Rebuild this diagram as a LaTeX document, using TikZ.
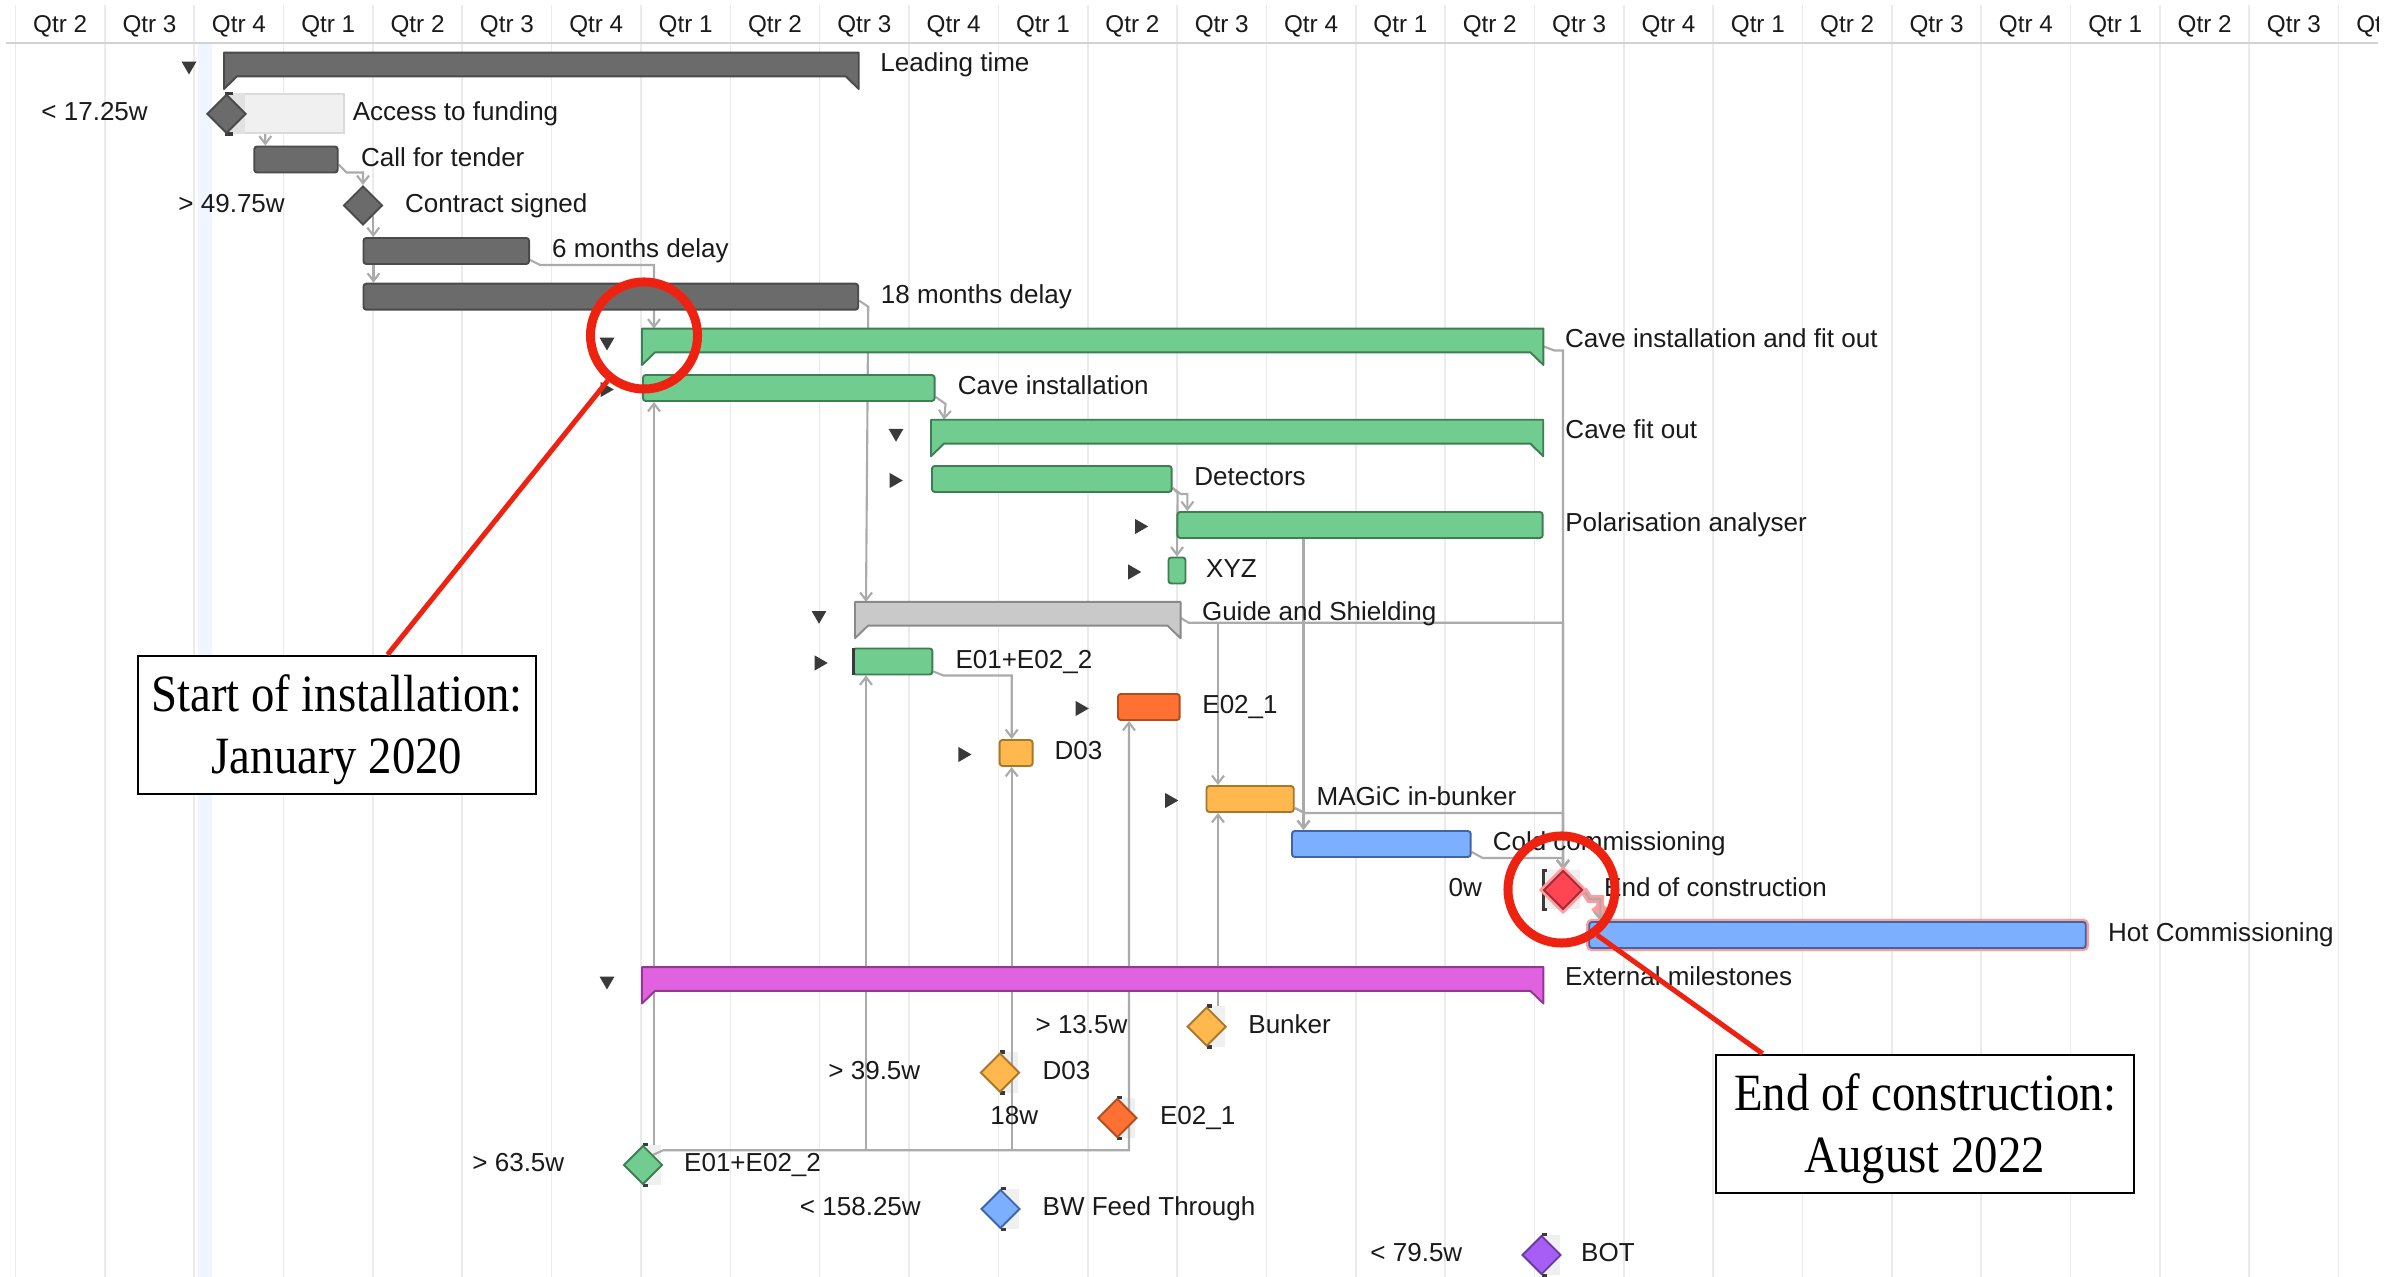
\documentclass[tikz,border=0pt]{standalone}
\usepackage{fontspec}
\setmainfont{Liberation Sans}
\newfontfamily\calloutfont{Liberation Serif}
\usetikzlibrary{positioning, calc, shapes.geometric, arrows.meta}
\pgfdeclarelayer{grid}
\pgfdeclarelayer{links}
\pgfdeclarelayer{front}
\pgfsetlayers{grid,links,main,front}

\definecolor{barGrey}{HTML}{6B6B6B}
\definecolor{barGreyEdge}{HTML}{4A4A4A}
\definecolor{caveGreen}{HTML}{70CD8F}
\definecolor{caveGreenEdge}{HTML}{3F7D54}
\definecolor{guideGrey}{HTML}{C9C9C9}
\definecolor{guideGreyEdge}{HTML}{8A8A8A}
\definecolor{orangeTask}{HTML}{FF7033}
\definecolor{orangeTaskEdge}{HTML}{B24E1E}
\definecolor{yellowTask}{HTML}{FFB84D}
\definecolor{yellowTaskEdge}{HTML}{A8782A}
\definecolor{blueTask}{HTML}{7DAFFF}
\definecolor{blueTaskEdge}{HTML}{4064A8}
\definecolor{magentaSum}{HTML}{E062E0}
\definecolor{magentaSumEdge}{HTML}{8F3A8F}
\definecolor{redMile}{HTML}{FF4553}
\definecolor{redMileEdge}{HTML}{A52A3A}
\definecolor{purpleMile}{HTML}{A65EF5}
\definecolor{purpleMileEdge}{HTML}{6A3A9E}
\definecolor{gridGrey}{HTML}{EBEBEB}
\definecolor{headLine}{HTML}{D2D2D2}
\definecolor{depGrey}{HTML}{ABABAB}
\definecolor{todayBlue}{HTML}{F0F6FF}
\definecolor{slackGrey}{HTML}{F0F0F0}
\definecolor{slackDark}{HTML}{E2E2E2}
\definecolor{slackEdge}{HTML}{DADADA}
\definecolor{markDark}{HTML}{3A3A3A}
\definecolor{textDark}{HTML}{1A1A1A}
\definecolor{calloutRed}{HTML}{EE2211}
\definecolor{glowPink}{HTML}{FF9C9C}

% summary bar outline with the two end flags
\newcommand{\sumflags}[3]{%
  \filldraw[fill=#2, draw=#3, line width=0.55pt, line join=round]
    (#1.north west) -- (#1.north east) -- ($(#1.south east)+(0,12.6)$)
    -- ($(#1.south east)+(-13,0)$) -- ($(#1.south west)+(13,0)$)
    -- ($(#1.south west)+(0,12.6)$) -- cycle;}
% slack mark behind a milestone
\newcommand{\slackmark}[1]{%
  \begin{pgfonlayer}{links}
    \fill[slackGrey] (#1.north) rectangle ($(#1.south)+(18,0)$);
    \draw[markDark, line width=1pt] (#1.north) -- ++(5,0) (#1.south) -- ++(5,0);
  \end{pgfonlayer}}

\begin{document}
\begin{tikzpicture}[x=0.01cm, y=-0.01cm, >=stealth,
    taskbar/.style={draw, rounded corners=0.8pt, line width=0.55pt, minimum height=0.26cm, inner sep=0pt, anchor=west},
    sumbar/.style={inner sep=0pt, minimum height=0.224cm, anchor=west},
    milestone/.style={diamond, draw, line width=0.55pt, inner sep=0pt, minimum width=0.39cm, minimum height=0.39cm},
    slackbox/.style={fill=slackGrey, draw=slackEdge, line width=0.5pt, minimum height=0.39cm, inner sep=0pt, anchor=west},
    tasklabel/.style={font=\fontsize{7.4}{9}\selectfont, text=textDark, inner sep=0pt, text height=5.6pt, text depth=1.7pt},
    headlabel/.style={font=\fontsize{6.9}{8}\selectfont, text=textDark, inner sep=0pt},
    expander/.style={regular polygon, regular polygon sides=3, fill=markDark, inner sep=0pt, minimum size=0.17cm, shape border rotate=180},
    collapser/.style={regular polygon, regular polygon sides=3, fill=markDark, inner sep=0pt, minimum size=0.175cm, shape border rotate=-90},
    dep/.style={draw=depGrey, line width=0.6pt, -{Straight Barb[length=2.2pt, width=3.4pt]}},
    callbox/.style={draw, line width=0.75pt, fill=white, inner sep=0pt},
    calltext/.style={align=center, inner sep=0pt, transform shape, yscale=1.12, font=\calloutfont\fontsize{13.3}{15.7}\selectfont},
    ring/.style={circle, draw=calloutRed, line width=0.09cm, minimum size=1.07cm, inner sep=0pt},
    pointer/.style={draw=calloutRed, line width=0.05cm}]
  \useasboundingbox (0,0) rectangle (2402,1277);

  % Grid and header
  \begin{pgfonlayer}{grid}
    \fill[white] (0,0) rectangle (2402,1277);
    \fill[todayBlue] (198,43) rectangle (212,1277);
    \foreach \k in {0,...,26}
      \draw[gridGrey, line width=0.45pt] ({15.5+89.35*\k},5) -- ({15.5+89.35*\k},1277);
    \draw[headLine, line width=0.6pt] (6,43) -- (2378,43);
  \end{pgfonlayer}
  \begin{scope}
    \clip (0,0) rectangle (2378,43);
    \foreach \k in {0,...,26} {
      \pgfmathtruncatemacro\q{mod(\k+1,4)+1}
      \node[headlabel] (qtr\k) at ({15.5+89.35*(\k+0.5)},26) {Qtr \q};
    }
  \end{scope}

  % Leading time
  \node[sumbar, minimum width=6.33cm] (lead) at (224,64.5) {};
  \sumflags{lead}{barGrey}{barGreyEdge}
  \node[expander] (leadT) at ($(lead.west)+(-35,1.5)$) {};
  \node[tasklabel, right=0.21cm of lead] (leadL) {Leading time};

  \node[slackbox, minimum width=1.183cm] (accS) at (225,113.8) {};
  \fill[slackDark] (accS.north west) rectangle ($(accS.south west)+(20,0)$);
  \draw[markDark, line width=1pt] (accS.north west) -- ++(8,0) (accS.south west) -- ++(8,0);
  \node[milestone, fill=barGrey, draw=barGreyEdge] (acc) at (226.5,113.8) {};
  \node[tasklabel, right=0.07cm of accS] (accL) {Access to funding};
  \node[tasklabel, left=0.575cm of acc] (accD) {< 17.25w};

  \node[taskbar, fill=barGrey, draw=barGreyEdge, minimum width=0.834cm] (cft) at (253.3,159.5) {};
  \node[tasklabel, right=0.216cm of cft] (cftL) {Call for tender};

  \node[milestone, fill=barGrey, draw=barGreyEdge] (con) at (363,205.5) {};
  \node[tasklabel, right=0.21cm of con] (conL) {Contract signed};
  \node[tasklabel, left=0.57cm of con] (conD) {> 49.75w};

  \node[taskbar, fill=barGrey, draw=barGreyEdge, minimum width=1.655cm] (d6) at (362.5,251) {};
  \node[tasklabel, right=0.215cm of d6] (d6L) {6 months delay};

  \node[taskbar, fill=barGrey, draw=barGreyEdge, minimum width=4.945cm] (d18) at (362.5,296.7) {};
  \node[tasklabel, right=0.21cm of d18] (d18L) {18 months delay};

  % Cave installation and fit out
  \node[sumbar, minimum width=8.995cm] (cif) at (642,340.5) {};
  \sumflags{cif}{caveGreen}{caveGreenEdge}
  \node[expander] (cifT) at ($(cif.west)+(-35,1.5)$) {};
  \node[tasklabel, right=0.21cm of cif] (cifL) {Cave installation and fit out};

  \node[taskbar, fill=caveGreen, draw=caveGreenEdge, minimum width=2.915cm] (ci) at (642,388) {};
  \node[collapser] (ciT) at ($(ci.west)+(-37,1.5)$) {};
  \node[tasklabel, right=0.215cm of ci] (ciL) {Cave installation};

  \node[sumbar, minimum width=6.105cm] (cfo) at (931,431.7) {};
  \sumflags{cfo}{caveGreen}{caveGreenEdge}
  \node[expander] (cfoT) at ($(cfo.west)+(-35,1.5)$) {};
  \node[tasklabel, right=0.215cm of cfo] (cfoL) {Cave fit out};

  \node[taskbar, fill=caveGreen, draw=caveGreenEdge, minimum width=2.396cm] (det) at (931,479) {};
  \node[collapser] (detT) at ($(det.west)+(-37,1.5)$) {};
  \node[tasklabel, right=0.21cm of det] (detL) {Detectors};

  \node[taskbar, fill=caveGreen, draw=caveGreenEdge, minimum width=3.651cm] (pol) at (1176.4,525) {};
  \node[collapser] (polT) at ($(pol.west)+(-37,1.5)$) {};
  \node[tasklabel, right=0.21cm of pol] (polL) {Polarisation analyser};

  \node[taskbar, fill=caveGreen, draw=caveGreenEdge, minimum width=0.17cm] (xyz) at (1167.5,570.5) {};
  \node[collapser] (xyzT) at ($(xyz.west)+(-35,1.5)$) {};
  \node[tasklabel, right=0.19cm of xyz] (xyzL) {XYZ};

  % Guide and Shielding
  \node[sumbar, minimum width=3.24cm] (gas) at (855,613.8) {};
  \sumflags{gas}{guideGrey}{guideGreyEdge}
  \node[expander] (gasT) at ($(gas.west)+(-36,1.5)$) {};
  \node[tasklabel, right=0.207cm of gas] (gasL) {Guide and Shielding};

  \node[taskbar, fill=caveGreen, draw=caveGreenEdge, minimum width=0.794cm] (e01) at (852,661.5) {};
  \fill[markDark] (e01.north west) rectangle ($(e01.south west)+(3,0)$);
  \node[collapser] (e01T) at ($(e01.west)+(-33,1.5)$) {};
  \node[tasklabel, right=0.214cm of e01] (e01L) {E01+E02\_2};

  \node[taskbar, fill=orangeTask, draw=orangeTaskEdge, minimum width=0.617cm] (e021) at (1117,707) {};
  \node[collapser] (e021T) at ($(e021.west)+(-37,1.5)$) {};
  \node[tasklabel, right=0.21cm of e021] (e021L) {E02\_1};

  \node[taskbar, fill=yellowTask, draw=yellowTaskEdge, minimum width=0.329cm] (d03) at (998.7,753) {};
  \node[collapser] (d03T) at ($(d03.west)+(-36,1.5)$) {};
  \node[tasklabel, right=0.204cm of d03] (d03L) {D03};

  \node[taskbar, fill=yellowTask, draw=yellowTaskEdge, minimum width=0.872cm] (magic) at (1205.5,799) {};
  \node[collapser] (magicT) at ($(magic.west)+(-36,1.5)$) {};
  \node[tasklabel, right=0.213cm of magic] (magicL) {MAGiC in-bunker};

  \node[taskbar, fill=blueTask, draw=blueTaskEdge, minimum width=1.786cm] (cold) at (1291,844) {};
  \node[tasklabel, right=0.204cm of cold] (coldL) {Cold commissioning};

  % End of construction
  \begin{pgfonlayer}{links}
    \fill[slackGrey] (1545,870.5) rectangle (1580,909.5);
    \draw[markDark, line width=1pt] (1547,870.5) -- (1543.5,870.5) -- (1543.5,909.5) -- (1547,909.5);
  \end{pgfonlayer}
  \node[milestone, fill=redMile, draw=redMileEdge, preaction={draw=glowPink, line width=2pt}] (eoc) at (1563,890) {};
  \node[tasklabel, right=0.2cm of eoc] (eocL) {End of construction};
  \node[tasklabel, left=0.6cm of eoc] (eocD) {0w};

  \node[taskbar, fill=blueTask, draw=blueTaskEdge, preaction={draw=glowPink, line width=1.8pt}, minimum width=4.962cm] (hot) at (1588.3,935) {};
  \node[tasklabel, right=0.207cm of hot] (hotL) {Hot Commissioning};

  % External milestones
  \node[sumbar, minimum width=8.995cm] (ext) at (642,979) {};
  \sumflags{ext}{magentaSum}{magentaSumEdge}
  \node[expander] (extT) at ($(ext.west)+(-35,2)$) {};
  \node[tasklabel, right=0.21cm of ext] (extL) {External milestones};

  \node[milestone, fill=yellowTask, draw=yellowTaskEdge] (mbunk) at (1206.7,1026.7) {};
  \slackmark{mbunk}
  \node[tasklabel, right=0.205cm of mbunk] (mbunkL) {Bunker};
  \node[tasklabel, left=0.58cm of mbunk] (mbunkD) {> 13.5w};

  \node[milestone, fill=yellowTask, draw=yellowTaskEdge] (md03) at (1000,1072.7) {};
  \slackmark{md03}
  \node[tasklabel, right=0.215cm of md03] (md03L) {D03};
  \node[tasklabel, left=0.585cm of md03] (md03D) {> 39.5w};

  \node[milestone, fill=orangeTask, draw=orangeTaskEdge] (me021) at (1117.3,1118) {};
  \slackmark{me021}
  \node[tasklabel, right=0.215cm of me021] (me021L) {E02\_1};
  \node[tasklabel, left=0.58cm of me021] (me021D) {18w};

  \node[milestone, fill=caveGreen, draw=caveGreenEdge] (me01) at (643,1165) {};
  \slackmark{me01}
  \node[tasklabel, right=0.2cm of me01] (me01L) {E01+E02\_2};
  \node[tasklabel, left=0.575cm of me01] (me01D) {> 63.5w};

  \node[milestone, fill=blueTask, draw=blueTaskEdge] (mbw) at (1000.5,1209) {};
  \slackmark{mbw}
  \node[tasklabel, right=0.21cm of mbw] (mbwL) {BW Feed Through};
  \node[tasklabel, left=0.585cm of mbw] (mbwD) {< 158.25w};

  \node[milestone, fill=purpleMile, draw=purpleMileEdge] (mbot) at (1541.5,1255) {};
  \slackmark{mbot}
  \node[tasklabel, right=0.185cm of mbot] (mbotL) {BOT};
  \node[tasklabel, left=0.58cm of mbot] (mbotD) {< 79.5w};

  % Dependencies
  \begin{pgfonlayer}{links}
    \coordinate (coldIn) at ($(cold.north west)+(12.5,0)$);
    \coordinate (magicIn) at ($(magic.north west)+(12.5,0)$);
    \coordinate (magicOut) at ($(magic.south west)+(12.5,0)$);
    \coordinate (gasBus) at ($(gas.east)+(8,9)$);
    \coordinate (ciIn) at ($(ci.south west)+(12,0)$);
    \coordinate (msBus) at ($(me01.north east)+(10,-4.5)$);
    \coordinate (e01In) at ($(e01.south west)+(14,0)$);
    \coordinate (d03In) at ($(d03.south west)+(13,0)$);
    \coordinate (e021In) at ($(e021.south west)+(12,0)$);

    \draw[dep] (acc.east) ++(-3,4) -- ++(10,10) -| ($(cft.north west)+(12,0)$);
    \draw[dep] (cft.east) ++(0,5) -- ++(8,8) -| (con.north);
    \draw[dep] (con.south east) -- (con.south east |- d6.north);
    \draw[dep] ($(d6.south west)+(11,0)$) -- ($(d18.north west)+(11,0)$);
    \draw[dep] (d6.south east) ++(0,-5) -- ++(10,5) -| ($(cif.north west)+(12,0)$);
    \draw[dep] (d18.east) ++(0,4) -- ++(9,6) -- ($(gas.north west)+(11,0)$);
    \draw[dep] (ci.south east) ++(0,-5) -- ++(10,7) -- ($(cfo.north west)+(13,0)$);
    \draw[dep] (det.south east) ++(0,-5) -- ++(8,6) -| ($(pol.north west)+(11,0)$);
    \draw[dep] (det.south east) ++(0,-5) -- ++(5,5) -- (xyz.north);
    \draw[dep] (coldIn |- pol.south) -- (coldIn);
    \draw[dep] (magic.south east) ++(0,-5) -- ++(10,5) -| (coldIn);
    \draw[dep] (magic.south east) ++(0,-5) -- ++(10,5) -| (eoc.north);
    \draw[dep] (cif.east) ++(0,6) -- ++(11,4) -| (eoc.north);
    \draw[dep] (gas.east) ++(0,4) -- (gasBus) -| (eoc.north);
    \draw[dep] (gasBus -| magicIn) -- (magicIn);
    \draw[dep] (cold.south east) ++(0,-6) -- ++(11,6) -| (eoc.north);
    \draw[dep, preaction={draw=glowPink, line width=2.2pt}] (eoc.east) -- ++(6,9) -- ++(10,0) -| ($(hot.north west)+(12,0)$);
    \draw[dep] (ciIn |- me01.north) -- (ciIn);
    \draw[dep] (me01.north east) -- (msBus) -| (e021In);
    \draw[dep] (msBus -| d03In) -- (d03In);
    \draw[dep] (msBus -| e01In) -- (e01In);
    \draw[dep] (e01.south east) ++(0,-4) -- ++(10,4) -| ($(d03.north west)+(13,0)$);
    \draw[dep] (magicOut |- mbunk.north) -- (magicOut);
  \end{pgfonlayer}

  % Callouts
  \begin{pgfonlayer}{front}
    \node[callbox, minimum width=3.98cm, minimum height=1.38cm] (startBox) at (337,725) {};
    \node[calltext] (startTxt) at ($(startBox.center)+(0,5)$) {Start of installation:\\January 2020};
    \node[ring] (startRing) at (644,335.5) {};
    \draw[pointer] ($(startBox.north west)+(251,0)$) -- (startRing);
    \node[callbox, minimum width=4.18cm, minimum height=1.38cm] (endBox) at (1925,1124) {};
    \node[calltext] (endTxt) at ($(endBox.center)+(0,5)$) {End of construction:\\August 2022};
    \node[ring] (endRing) at (1561.5,889.5) {};
    \draw[pointer] ($(endBox.north west)+(48,0)$) -- (endRing.-52);
  \end{pgfonlayer}
\end{tikzpicture}
\end{document}
